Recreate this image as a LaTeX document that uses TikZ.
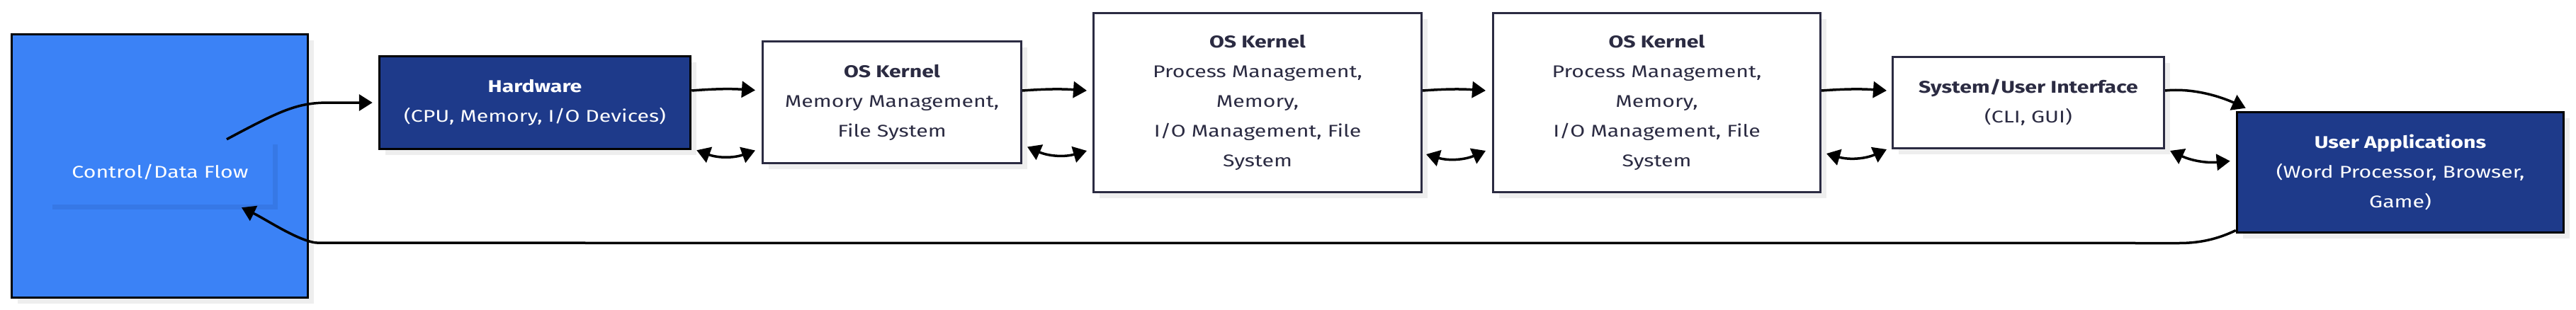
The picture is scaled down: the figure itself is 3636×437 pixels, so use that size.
\documentclass[tikz,border=0pt]{standalone}
\usepackage{fontspec}
\setmainfont{Fira Sans}[FakeStretch=1.26]
\usetikzlibrary{arrows.meta,shadows}
\definecolor{flowblue}{HTML}{3B82F6}
\definecolor{navy}{HTML}{1E3A8A}
\definecolor{ink}{HTML}{2B2B42}
\definecolor{shade}{HTML}{EEEEEE}
\definecolor{lblshade}{HTML}{3678E6}
\tikzset{
 base/.style={rectangle, inner sep=0pt, align=center, font=\fontsize{24}{42}\selectfont,
   general shadow={fill=shade, shadow xshift=8pt, shadow yshift=-8pt}},
 darkbox/.style={base, fill=navy, draw=black, line width=3.5pt, text=white},
 lightbox/.style={base, fill=white, draw=ink, line width=3pt, text=ink},
 flowbox/.style={base, fill=flowblue, draw=black, line width=3.5pt},
 flowlabel/.style={rectangle, inner sep=0pt, align=center, font=\fontsize{24}{42}\selectfont,
   fill=flowblue, text=white, general shadow={fill=lblshade, shadow xshift=7pt, shadow yshift=-7pt}},
 arr/.style={line width=3.5pt, -{Triangle[length=19pt,width=23pt]}},
 biarr/.style={line width=3.5pt, {Triangle[length=19pt,width=23pt]}-{Triangle[length=19pt,width=23pt]}},
}
\begin{document}
\begin{tikzpicture}[x=1pt,y=-1pt]
\useasboundingbox (0,0) rectangle (3636,437);
\node[flowbox, minimum width=418pt, minimum height=372pt] (flow) at (225.5,234.5) {};
\node[flowlabel, minimum width=318pt, minimum height=92pt] (lbl) at (226,243) {Control/Data Flow};
\node[darkbox, minimum width=439pt, minimum height=131pt] (hw) at (755,145)
  {\textbf{Hardware}\\(CPU, Memory, I/O Devices)};
\node[lightbox, minimum width=365pt, minimum height=172pt] (k1) at (1259,144.5)
  {\textbf{OS Kernel}\\Memory Management,\\File System};
\node[lightbox, minimum width=463pt, minimum height=253pt] (k2) at (1775,145)
  {\textbf{OS Kernel}\\Process Management,\\Memory,\\I/O Management, File\\System};
\node[lightbox, minimum width=462pt, minimum height=253pt] (k3) at (2338.5,145)
  {\textbf{OS Kernel}\\Process Management,\\Memory,\\I/O Management, File\\System};
\node[lightbox, minimum width=383pt, minimum height=129pt] (su) at (2863,145)
  {\textbf{System/User Interface}\\(CLI, GUI)};
\node[darkbox, minimum width=461pt, minimum height=170pt] (ua) at (3388,243.5)
  {\textbf{User Applications}\\(Word Processor, Browser,\\Game)};

% flow -> hardware
\draw[arr] ([xshift=94pt]lbl.north) .. controls +(75,-40) and +(-45,0) .. ([xshift=-70pt]hw.west) -- ([xshift=-8pt]hw.west);
% forward chain
\draw[arr] ([yshift=17pt]hw.east) to[bend left=4] ([xshift=-9pt,yshift=17pt]k1.west);
\draw[arr] ([yshift=16.5pt]k1.east) to[bend left=4] ([xshift=-8pt,yshift=17pt]k2.west);
\draw[arr] ([yshift=17pt]k2.east) to[bend left=4] ([xshift=-9pt,yshift=17pt]k3.west);
\draw[arr] ([yshift=17pt]k3.east) to[bend left=4] ([xshift=-7pt,yshift=17pt]su.west);
\draw[arr] ([yshift=17pt]su.east) .. controls +(40,-4) and +(-35,-16) .. ([xshift=14pt,yshift=4pt]ua.north west);
% bidirectional
\draw[biarr] ([xshift=7pt]hw.south east) to[bend right=20] ([xshift=-9pt,yshift=-68pt]k1.west);
\draw[biarr] ([xshift=7pt,yshift=-63pt]k1.east) to[bend right=20] ([xshift=-8pt,yshift=-68pt]k2.west);
\draw[biarr] ([xshift=5pt,yshift=-73pt]k2.east) to[bend right=20] ([xshift=-9pt,yshift=-68pt]k3.west);
\draw[biarr] ([xshift=7pt,yshift=-72pt]k3.east) to[bend right=20] ([xshift=-7pt]su.south west);
\draw[biarr] ([xshift=7pt,yshift=-2pt]su.south east) to[bend right=15] ([xshift=-8pt,yshift=16pt]ua.west);
% return
\draw[arr] ([yshift=-82pt]ua.west) .. controls +(-25,12) and +(30,0) .. ([xshift=-80pt,yshift=-100pt]ua.west)
  -- ([xshift=224pt,yshift=-54pt]lbl.south) .. controls +(-25,0) and +(35,17) .. ([xshift=115pt,yshift=-4pt]lbl.south);
\end{tikzpicture}
\end{document}
